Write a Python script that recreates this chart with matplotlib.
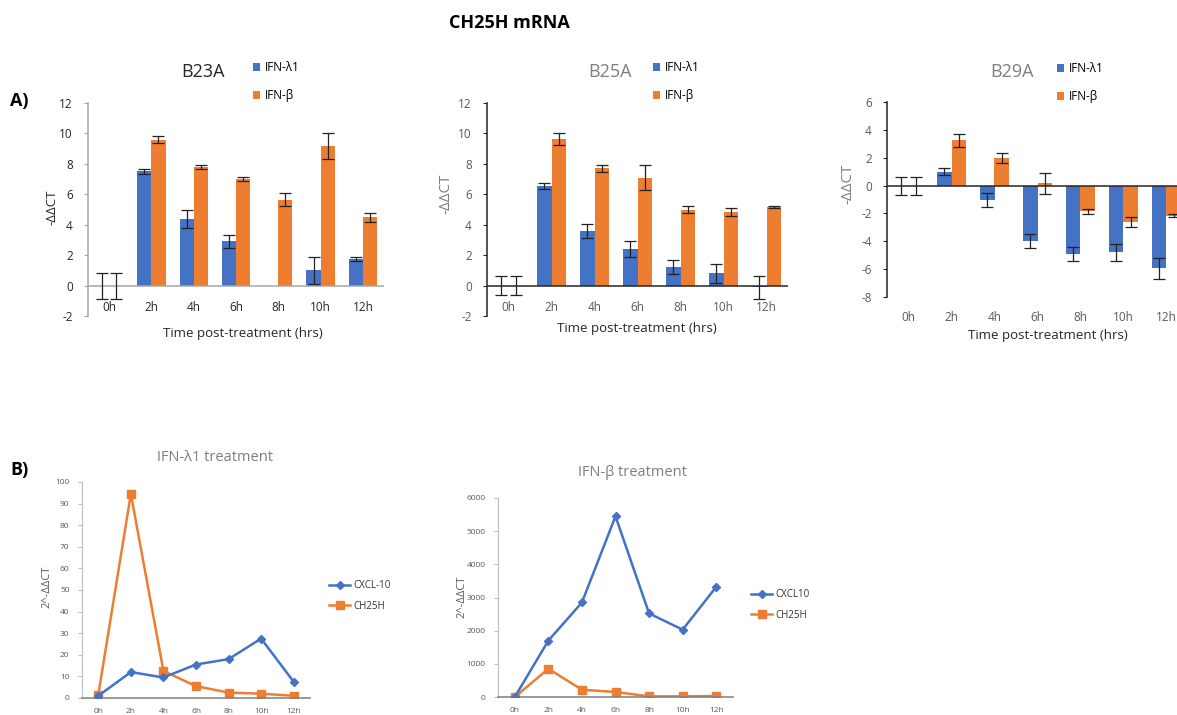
import matplotlib
matplotlib.use("Agg")
import matplotlib.pyplot as plt
import numpy as np

plt.rcParams["font.family"] = ["Open Sans", "DejaVu Sans"]
plt.rcParams["axes.unicode_minus"] = False

BLUE = "#4472C4"
ORANGE = "#ED7D31"
GREY = "#595959"

HOURS = ["0h", "2h", "4h", "6h", "8h", "10h", "12h"]

# -ddCT per donor, mean and error bar half-width (nan = no error bar)
B23A_LAM = [0.0, 7.5, 4.4, 2.9, 0.0, 1.0, 1.75]
B23A_LAM_ERR = [0.85, 0.15, 0.6, 0.4, np.nan, 0.9, 0.15]
B23A_BETA = [0.0, 9.6, 7.8, 7.0, 5.65, 9.2, 4.5]
B23A_BETA_ERR = [0.85, 0.2, 0.15, 0.15, 0.45, 0.85, 0.3]

B25A_LAM = [0.0, 6.55, 3.6, 2.4, 1.2, 0.8, -0.1]
B25A_LAM_ERR = [0.65, 0.2, 0.45, 0.5, 0.45, 0.6, 0.75]
B25A_BETA = [0.0, 9.65, 7.7, 7.1, 5.0, 4.85, 5.15]
B25A_BETA_ERR = [0.65, 0.4, 0.25, 0.8, 0.2, 0.25, 0.05]

B29A_LAM = [0.0, 1.0, -1.05, -3.95, -4.9, -4.8, -5.95]
B29A_LAM_ERR = [0.65, 0.25, 0.5, 0.5, 0.5, 0.6, 0.75]
B29A_BETA = [0.0, 3.25, 2.0, 0.15, -1.85, -2.6, -2.15]
B29A_BETA_ERR = [0.65, 0.45, 0.35, 0.75, 0.2, 0.35, 0.1]

# 2^-ddCT fold change
LAM_CXCL10 = [1, 12, 9.5, 15.5, 18, 27.5, 7.5]
LAM_CH25H = [1.5, 94.5, 12.5, 5.5, 2.5, 2, 1]
BETA_CXCL10 = [0, 1700, 2850, 5450, 2520, 2030, 3320]
BETA_CH25H = [0, 850, 220, 150, 20, 20, 30]

W, H = 1177, 715
fig = plt.figure(figsize=(W / 100, H / 100), dpi=100)


def fx(x):
    return x / W


def fy(y):
    return 1 - y / H


def add_ax(l, t, r, b):
    return fig.add_axes([l / W, 1 - b / H, (r - l) / W, (b - t) / H])


def bar_panel(ax, lam, lam_err, beta, beta_err, ylim, low_labels,
              axis_color, tick_color):
    x = np.arange(len(HOURS))
    w = 1 / 3
    ax.bar(x - w / 2, lam, w, color=BLUE, label="IFN-\u03bb1", zorder=2)
    ax.bar(x + w / 2, beta, w, color=ORANGE, label="IFN-\u03b2", zorder=2)
    for off, vals, errs in [(-w / 2, lam, lam_err), (w / 2, beta, beta_err)]:
        errs = np.asarray(errs, float)
        ok = ~np.isnan(errs)
        ax.errorbar((x + off)[ok], np.asarray(vals)[ok], yerr=errs[ok],
                    fmt="none", ecolor="#222222", elinewidth=0.9,
                    capsize=4, capthick=0.9, zorder=4)
    ax.set_xlim(-0.5, 6.5)
    ax.set_ylim(*ylim)
    ax.set_yticks(range(ylim[0], ylim[1] + 1, 2))
    ax.axhline(0, color=axis_color, lw=1.1, zorder=3)
    for s in ["top", "right"]:
        ax.spines[s].set_visible(False)
    ax.spines["left"].set_color(axis_color)
    ax.spines["left"].set_linewidth(1.1)
    ax.spines["bottom"].set_visible(False)
    if not low_labels:
        ax.spines["bottom"].set_position(("data", 0))
    ax.set_xticks(x)
    ax.set_xticklabels(HOURS)
    ax.tick_params(axis="x", length=0, pad=10 if low_labels else 11,
                   labelsize=8.5, labelcolor=tick_color)
    ax.tick_params(axis="y", length=3, color=axis_color, labelsize=8.5,
                   labelcolor=tick_color, pad=8)


def bar_legend(ax, x, y):
    ax.legend(loc="upper left", bbox_to_anchor=(fx(x), fy(y)),
              bbox_transform=fig.transFigure, frameon=False, fontsize=8.5,
              handlelength=0.6, handleheight=0.6, handletextpad=0.4,
              labelspacing=1.3, borderpad=0, borderaxespad=0)


def line_panel(ax, cx, ch, cx_label, ylim, step):
    x = np.arange(len(HOURS))
    ax.plot(x, cx, color=BLUE, lw=1.8, marker="D", ms=4.5, label=cx_label,
            zorder=3)
    ax.plot(x, ch, color=ORANGE, lw=1.8, marker="s", ms=5.5, label="CH25H",
            zorder=2)
    ax.set_xlim(-0.5, 6.5)
    ax.set_ylim(*ylim)
    ax.set_yticks(np.arange(ylim[0], ylim[1] + 1, step))
    for s in ["top", "right"]:
        ax.spines[s].set_visible(False)
    ax.spines["left"].set_color("#bfbfbf")
    ax.spines["bottom"].set_color("#7f7f7f")
    ax.spines["bottom"].set_linewidth(1.1)
    ax.set_xticks(x)
    ax.set_xticklabels(HOURS)
    ax.tick_params(axis="x", length=0, pad=7, labelsize=6, labelcolor=GREY)
    ax.tick_params(axis="y", length=3, color="#bfbfbf", labelsize=6,
                   labelcolor=GREY, pad=6)


def line_legend(ax, x, y):
    ax.legend(loc="upper left", bbox_to_anchor=(fx(x), fy(y)),
              bbox_transform=fig.transFigure, frameon=False, fontsize=7,
              handlelength=2.2, handletextpad=0.3, labelspacing=1.0,
              borderpad=0, borderaxespad=0, labelcolor="#333333")


fig.text(fx(509), fy(23), "CH25H mRNA", ha="center", va="center",
         fontsize=13, fontweight="bold")
fig.text(fx(10), fy(101), "A)", ha="left", va="center", fontsize=13,
         fontweight="bold")
fig.text(fx(10), fy(470), "B)", ha="left", va="center", fontsize=13,
         fontweight="bold")

# B23A
ax1 = add_ax(88, 103, 384, 316)
bar_panel(ax1, B23A_LAM, B23A_LAM_ERR, B23A_BETA, B23A_BETA_ERR, (-2, 12),
          False, "#a6a6a6", "#262626")
fig.text(fx(203), fy(72), "B23A", ha="center", va="center", fontsize=13,
         color="#262626")
bar_legend(ax1, 253, 61)
fig.text(fx(52), fy(207), "-\u0394\u0394CT", rotation=90, ha="center",
         va="center", fontsize=9.5, color="#262626")
fig.text(fx(243), fy(333), "Time post-treatment (hrs)", ha="center",
         va="center", fontsize=9.5, color="#262626")

# B25A
ax2 = add_ax(487, 103, 788, 316)
bar_panel(ax2, B25A_LAM, B25A_LAM_ERR, B25A_BETA, B25A_BETA_ERR, (-2, 12),
          False, "#262626", GREY)
fig.text(fx(610), fy(72), "B25A", ha="center", va="center", fontsize=13,
         color="#7f7f7f")
bar_legend(ax2, 653, 61)
fig.text(fx(446), fy(194), "-\u0394\u0394CT", rotation=90, ha="center",
         va="center", fontsize=11, color="#7f7f7f")
fig.text(fx(637), fy(329), "Time post-treatment (hrs)", ha="center",
         va="center", fontsize=9.5, color="#262626")

# B29A runs off the right edge
ax3 = add_ax(887, 102, 1188, 297)
bar_panel(ax3, B29A_LAM, B29A_LAM_ERR, B29A_BETA, B29A_BETA_ERR, (-8, 6),
          True, "#262626", GREY)
fig.text(fx(1012), fy(72), "B29A", ha="center", va="center", fontsize=13,
         color="#7f7f7f")
bar_legend(ax3, 1057, 62)
fig.text(fx(848), fy(184), "-\u0394\u0394CT", rotation=90, ha="center",
         va="center", fontsize=11, color="#7f7f7f")
fig.text(fx(1048), fy(336), "Time post-treatment (hrs)", ha="center",
         va="center", fontsize=9.5, color="#262626")

# IFN-lambda1 treatment
ax4 = add_ax(82, 482, 310, 698)
line_panel(ax4, LAM_CXCL10, LAM_CH25H, "CXCL-10", (0, 100), 10)
fig.text(fx(215), fy(457), "IFN-\u03bb1 treatment", ha="center",
         va="center", fontsize=10.5, color="#7f7f7f")
fig.text(fx(47), fy(587), "2^-\u0394\u0394CT", rotation=90, ha="center",
         va="center", fontsize=8, color=GREY)
line_legend(ax4, 329, 580)

# IFN-beta treatment
ax5 = add_ax(498, 498, 733, 697)
line_panel(ax5, BETA_CXCL10, BETA_CH25H, "CXCL10", (0, 6000), 1000)
fig.text(fx(632), fy(472), "IFN-\u03b2 treatment", ha="center",
         va="center", fontsize=10.5, color="#7f7f7f")
fig.text(fx(462), fy(597), "2^-\u0394\u0394CT", rotation=90, ha="center",
         va="center", fontsize=8, color=GREY)
line_legend(ax5, 751, 589)

fig.savefig("out.png", dpi=100)
